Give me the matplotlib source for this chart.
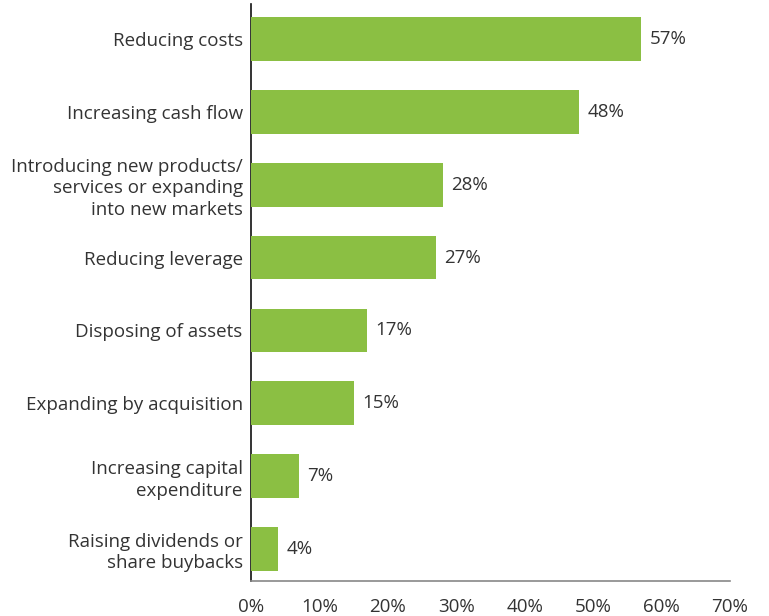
import matplotlib
matplotlib.use('Agg')
import matplotlib.pyplot as plt
from matplotlib.ticker import FuncFormatter

# 取り組み項目と回答割合 (%)
categories = [
    'Reducing costs',
    'Increasing cash flow',
    'Introducing new products/\nservices or expanding\ninto new markets',
    'Reducing leverage',
    'Disposing of assets',
    'Expanding by acquisition',
    'Increasing capital\nexpenditure',
    'Raising dividends or\nshare buybacks',
]
shares = [57, 48, 28, 27, 17, 15, 7, 4]
x_ticks = [0, 10, 20, 30, 40, 50, 60, 70]

BAR_COLOR = '#8bbf43'
TEXT_COLOR = '#333333'

plt.rcParams['font.family'] = ['Open Sans', 'DejaVu Sans']

fig = plt.figure(figsize=(7.69, 6.16), dpi=100, facecolor='white')
ax = fig.add_axes([251 / 769, 35 / 616, 479 / 769, 577 / 616])

ypos = list(range(len(categories)))
ax.barh(ypos, shares, height=0.6, color=BAR_COLOR, zorder=3)

for y, v in zip(ypos, shares):
    ax.annotate(f'{v}%', xy=(v, y), xytext=(6, 0), textcoords='offset points',
                ha='left', va='center', fontsize=13.5, color=TEXT_COLOR)

ax.set_xlim(0, 70)
ax.set_ylim(7.44, -0.48)
ax.set_xticks(x_ticks)
ax.xaxis.set_major_formatter(FuncFormatter(lambda v, _: f'{v:.0f}%'))
ax.set_yticks(ypos)
ax.set_yticklabels(categories, fontsize=13.5, color=TEXT_COLOR, linespacing=1.25)
ax.tick_params(axis='x', length=0, pad=12, labelsize=13.5, labelcolor=TEXT_COLOR)
ax.tick_params(axis='y', length=0, pad=6)

for side in ('top', 'right'):
    ax.spines[side].set_visible(False)
ax.spines['left'].set_color('#111111')
ax.spines['left'].set_linewidth(1.2)
ax.spines['bottom'].set_color('#888888')
ax.spines['bottom'].set_linewidth(1.2)

fig.savefig('out.png', dpi=100, facecolor='white')
